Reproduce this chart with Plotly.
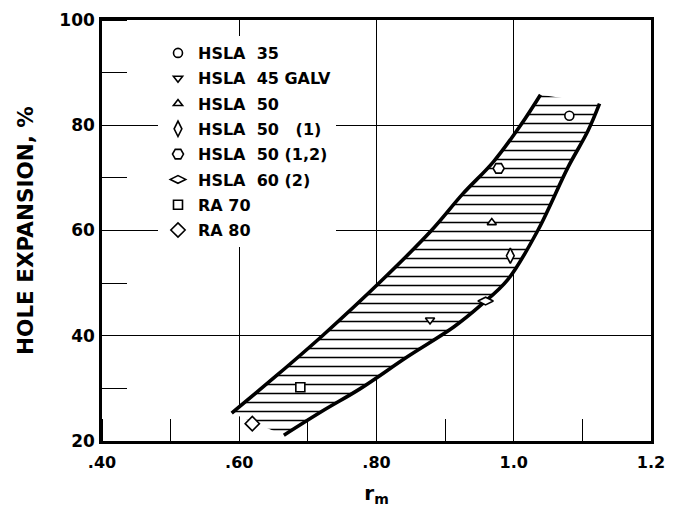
import plotly.graph_objects as go

# ---- data ----
series_names = ["HSLA\u00a0\u00a035", "HSLA\u00a0\u00a045\u00a0GALV", "HSLA\u00a0\u00a050",
                "HSLA\u00a0\u00a050\u00a0\u00a0\u00a0(1)", "HSLA\u00a0\u00a050\u00a0(1,2)",
                "HSLA\u00a0\u00a060\u00a0(2)", "RA\u00a070", "RA\u00a080"]
series_x = [1.081, 0.878, 0.968, 0.995, 0.978, 0.959, 0.689, 0.619]
series_y = [81.8, 43.0, 61.5, 55.2, 71.8, 46.6, 30.2, 23.3]
series_symbols = ["circle", "triangle-down", "triangle-up", "diamond-tall",
                  "hexagon2", "diamond-wide", "square", "diamond"]
series_sizes = [9, 8, 8, 11, 11, 11, 9, 11]

# scatter band boundaries
upper_x = [0.589, 0.655, 0.722, 0.806, 0.880, 0.926, 0.970, 1.010, 1.039]
upper_y = [25.3, 32.5, 40.1, 50.3, 60.0, 67.0, 73.0, 80.0, 85.8]
lower_x = [0.665, 0.720, 0.777, 0.845, 0.913, 0.952, 0.991, 1.035, 1.079, 1.108, 1.125]
lower_y = [21.1, 25.6, 30.0, 36.0, 41.7, 45.8, 50.6, 60.0, 72.0, 78.9, 84.1]

x_ticks = [0.4, 0.6, 0.8, 1.0, 1.2]
x_ticktext = [".40", ".60", ".80", "1.0", "1.2"]
y_ticks = [20, 40, 60, 80, 100]
y_ticktext = ["20", "40", "60", "80", "100"]

FONT = "DejaVu Sans"

fig = go.Figure()

# hatched band
poly_x = upper_x + lower_x[::-1] + [upper_x[0]]
poly_y = upper_y + lower_y[::-1] + [upper_y[0]]
fig.add_trace(go.Scatter(
    x=poly_x, y=poly_y, mode="lines", fill="toself",
    line=dict(width=0, color="black"),
    fillcolor="white",
    fillpattern=dict(shape="-", size=9, solidity=0.17, fgcolor="black",
                     bgcolor="white", fgopacity=1),
    showlegend=False, hoverinfo="skip"))
for bx, by in [(upper_x, upper_y), (lower_x, lower_y)]:
    fig.add_trace(go.Scatter(x=bx, y=by, mode="lines",
                             line=dict(color="black", width=3.6, shape="spline", smoothing=1.0),
                             showlegend=False, hoverinfo="skip"))

for i, name in enumerate(series_names):
    fig.add_trace(go.Scatter(
        x=[series_x[i]], y=[series_y[i]], mode="markers", name=name,
        legendgroup=f"g{i}",
        marker=dict(symbol=series_symbols[i], size=series_sizes[i], color="white",
                    line=dict(color="black", width=1.6))))

fig.update_layout(
    width=675, height=499,
    margin=dict(l=94, r=32, t=12, b=66, autoexpand=False),
    paper_bgcolor="white", plot_bgcolor="white",
    font=dict(family=FONT, color="black"),
    showlegend=True,
    legend=dict(x=0.102, y=0.962, xanchor="left", yanchor="top",
                bgcolor="white", borderwidth=0, tracegroupgap=1.5,
                itemwidth=30,
                font=dict(family=FONT, size=16, color="black", weight="bold")),
    xaxis=dict(range=[0.4, 1.2], tickvals=x_ticks, ticktext=x_ticktext,
               showgrid=True, gridcolor="black", gridwidth=1.3,
               showline=True, linecolor="black", linewidth=2.5, mirror=True,
               ticks="", ticklabelstandoff=5, automargin=False,
               tickfont=dict(family=FONT, size=16, weight="bold"),
               minor=dict(dtick=0.1, tick0=0.4, ticks="inside", ticklen=22,
                          tickwidth=1.3, tickcolor="black", showgrid=False),
               title=dict(text="r<sub>m</sub>", standoff=20,
                          font=dict(family=FONT, size=20, weight="bold")),
               zeroline=False),
    yaxis=dict(range=[20, 100], tickvals=y_ticks, ticktext=y_ticktext,
               showgrid=True, gridcolor="black", gridwidth=1.3,
               showline=True, linecolor="black", linewidth=2.5, mirror=True,
               ticks="", ticklabelstandoff=1, automargin=False,
               tickfont=dict(family=FONT, size=17, weight="bold"),
               minor=dict(dtick=10, tick0=20, ticks="inside", ticklen=25,
                          tickwidth=1.3, tickcolor="black", showgrid=False),
               title=dict(text="HOLE EXPANSION, %", standoff=20,
                          font=dict(family=FONT, size=21.5, weight="bold")),
               zeroline=False),
)

fig.write_html("out.html")
